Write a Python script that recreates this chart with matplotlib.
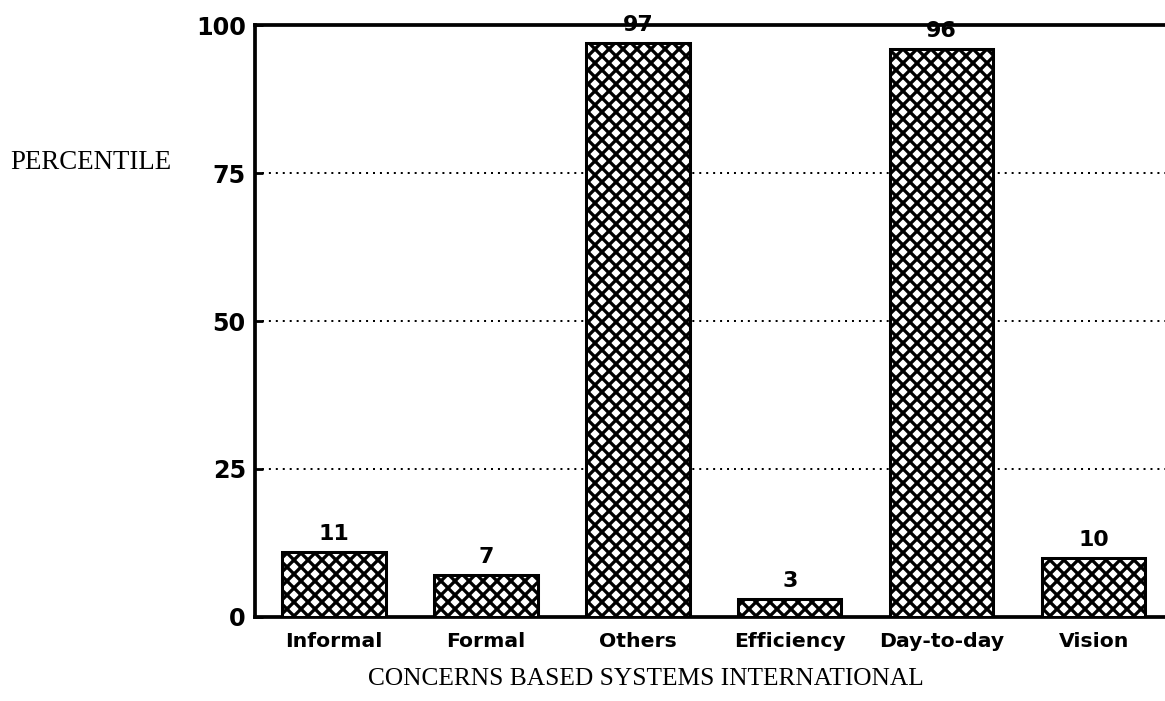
import numpy as np
import matplotlib.pyplot as plt

categories = ["Informal", "Formal", "Others", "Efficiency", "Day-to-day", "Vision"]
percentiles = [11, 7, 97, 3, 96, 10]
yticks = [0, 25, 50, 75, 100]

DPI = 84
plt.rcParams["hatch.linewidth"] = 2.8
plt.rcParams["hatch.color"] = "black"

fig = plt.figure(figsize=(1165 / DPI, 701 / DPI), dpi=DPI)
ax = fig.add_axes([0.219, 0.120, 0.781, 0.844])

x = np.arange(len(categories))
bars = ax.bar(x, percentiles, width=0.68, facecolor="white", edgecolor="black",
              linewidth=2.6, hatch="xx", zorder=3)

for b, v in zip(bars, percentiles):
    ax.annotate(str(v), (b.get_x() + b.get_width() / 2, b.get_height()),
                xytext=(0, 7), textcoords="offset points", ha="center", va="bottom",
                fontsize=19, fontweight="bold", family="DejaVu Sans", zorder=5)

ax.set_xlim(-0.52, 5.47)
ax.set_ylim(0, 100)
ax.set_yticks(yticks)
ax.set_yticklabels([str(t) for t in yticks], fontsize=20.5, fontweight="bold",
                   family="DejaVu Sans")
ax.set_xticks(x)
ax.set_xticklabels(categories, fontsize=17.5, fontweight="bold", family="DejaVu Sans")
ax.tick_params(axis="x", length=0, pad=13)
ax.tick_params(axis="y", direction="in", length=7, width=2.4, pad=8)

for t in [25, 50, 75]:
    ax.axhline(t, color="black", linestyle=(0, (1, 2.5)), linewidth=1.7, zorder=1)

ax.spines["right"].set_visible(False)
for side in ["left", "bottom", "top"]:
    ax.spines[side].set_linewidth(3.2)

fig.text(0.009, 0.768, "PERCENTILE", family="Liberation Serif", fontsize=23,
         ha="left", va="center")
fig.text(0.554, 0.031, "CONCERNS BASED SYSTEMS INTERNATIONAL", family="Liberation Serif",
         fontsize=21.8, ha="center", va="center")

fig.savefig("out.png", dpi=DPI)
